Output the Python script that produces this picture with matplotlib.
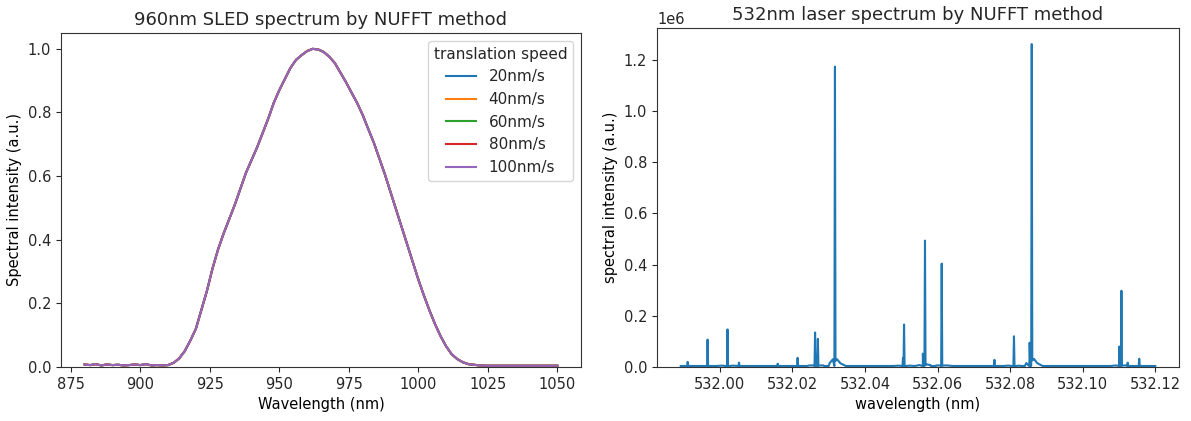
import matplotlib
matplotlib.use("Agg")
import matplotlib.pyplot as plt
import numpy as np

# ---------------- Left panel data: 960nm SLED spectrum ----------------
sled_wavelength = [880, 882, 884, 886, 888, 890, 892, 894, 896, 898, 900, 902, 904, 906, 908,
                   910, 912, 914, 916, 918, 920, 922, 924, 926, 928, 930, 932, 934, 936, 938,
                   940, 942, 944, 946, 948, 950, 952, 954, 956, 958, 960, 962, 964, 966, 968,
                   970, 972, 974, 976, 978, 980, 982, 984, 986, 988, 990, 992, 994, 996, 998,
                   1000, 1002, 1004, 1006, 1008, 1010, 1012, 1014, 1016, 1018, 1020, 1022,
                   1025, 1030, 1035, 1040, 1045, 1050]
sled_intensity = [0.008, 0.006, 0.009, 0.005, 0.008, 0.006, 0.007, 0.005, 0.006, 0.008, 0.006,
                  0.009, 0.005, 0.006, 0.005, 0.006, 0.013, 0.027, 0.050, 0.083, 0.120, 0.180,
                  0.240, 0.310, 0.370, 0.420, 0.465, 0.510, 0.560, 0.610, 0.650, 0.690, 0.735,
                  0.780, 0.830, 0.870, 0.905, 0.940, 0.965, 0.980, 0.993, 1.000, 0.998, 0.990,
                  0.975, 0.955, 0.925, 0.895, 0.862, 0.830, 0.792, 0.748, 0.705, 0.655, 0.605,
                  0.550, 0.495, 0.440, 0.385, 0.330, 0.275, 0.225, 0.178, 0.135, 0.097, 0.065,
                  0.040, 0.025, 0.015, 0.009, 0.007, 0.005, 0.004, 0.004, 0.004, 0.004, 0.004,
                  0.004]
speed_labels = ["20nm/s", "40nm/s", "60nm/s", "80nm/s", "100nm/s"]

# ---------------- Right panel data: 532nm laser spectrum ----------------
laser_range = [531.98923, 532.12000]
peak_positions = [531.99115, 531.99663, 532.00212, 532.00529, 532.01596, 532.02144,
                  532.02625, 532.02702, 532.03173, 532.05048, 532.05077, 532.05596,
                  532.05654, 532.06115, 532.07567, 532.08106, 532.08538, 532.08596,
                  532.11010, 532.11067, 532.11240, 532.11558]
peak_heights = [0.020e6, 0.107e6, 0.147e6, 0.017e6, 0.013e6, 0.036e6,
                0.135e6, 0.110e6, 1.174e6, 0.035e6, 0.166e6, 0.052e6,
                0.494e6, 0.404e6, 0.028e6, 0.120e6, 0.095e6, 1.262e6,
                0.080e6, 0.298e6, 0.017e6, 0.032e6]
peak_skirts = [0.0, 0.0, 0.004e6, 0.0, 0.0, 0.0,
               0.006e6, 0.006e6, 0.030e6, 0.0, 0.004e6, 0.0,
               0.010e6, 0.006e6, 0.0, 0.004e6, 0.0, 0.032e6,
               0.0, 0.006e6, 0.0, 0.0]
baseline_level = 0.004e6

# build the spectrum polyline from the peak table
xs = [laser_range[0]]
ys = [baseline_level]
for c, h, s in zip(peak_positions, peak_heights, peak_skirts):
    if s > 0:
        xs += [c - 0.0030, c - 0.0015, c - 0.0006]
        ys += [baseline_level, baseline_level + 0.35 * s, s]
    xs += [c - 0.00015, c, c + 0.00015]
    ys += [baseline_level, h, baseline_level if s == 0 else s * 0.8]
    if s > 0:
        xs += [c + 0.0006, c + 0.0015, c + 0.0030]
        ys += [s, baseline_level + 0.35 * s, baseline_level]
xs.append(laser_range[1])
ys.append(baseline_level)
order = np.argsort(xs, kind="stable")
xs = np.array(xs)[order]
ys = np.array(ys)[order]

plt.rcParams["xtick.labelsize"] = 10.5
plt.rcParams["ytick.labelsize"] = 10.5
plt.rcParams["axes.labelsize"] = 10.5
plt.rcParams["text.color"] = "#262626"
plt.rcParams["xtick.color"] = "#262626"
plt.rcParams["ytick.color"] = "#262626"
plt.rcParams["axes.edgecolor"] = "#333333"

fig = plt.figure(figsize=(11.91, 4.21), dpi=100)
W, H = 1191, 421
ax1 = fig.add_axes([61 / W, (H - 367) / H, 520 / W, (367 - 33) / H])
ax2 = fig.add_axes([657 / W, (H - 367) / H, 522 / W, (367 - 28) / H])

for lab in speed_labels:
    ax1.plot(sled_wavelength, sled_intensity, label=lab, linewidth=1.5)
ax1.set_ylim(bottom=0)
ax1.set_title("960nm SLED spectrum by NUFFT method", fontsize=13)
ax1.set_xlabel("Wavelength (nm)")
ax1.set_ylabel("Spectral intensity (a.u.)")
ax1.legend(title="translation speed", loc="upper right", fontsize=11, title_fontsize=11)

ax2.plot(xs, ys, color="#1f77b4", linewidth=1.5)
ax2.set_ylim(bottom=0)
ax2.set_xticks([532.00, 532.02, 532.04, 532.06, 532.08, 532.10, 532.12])
ax2.set_xticklabels(["532.00", "532.02", "532.04", "532.06", "532.08", "532.10", "532.12"])
ax2.set_title("532nm laser spectrum by NUFFT method", fontsize=13)
ax2.set_xlabel("wavelength (nm)")
ax2.set_ylabel("spectral intensity (a.u.)")

fig.savefig("out.png", dpi=100)
